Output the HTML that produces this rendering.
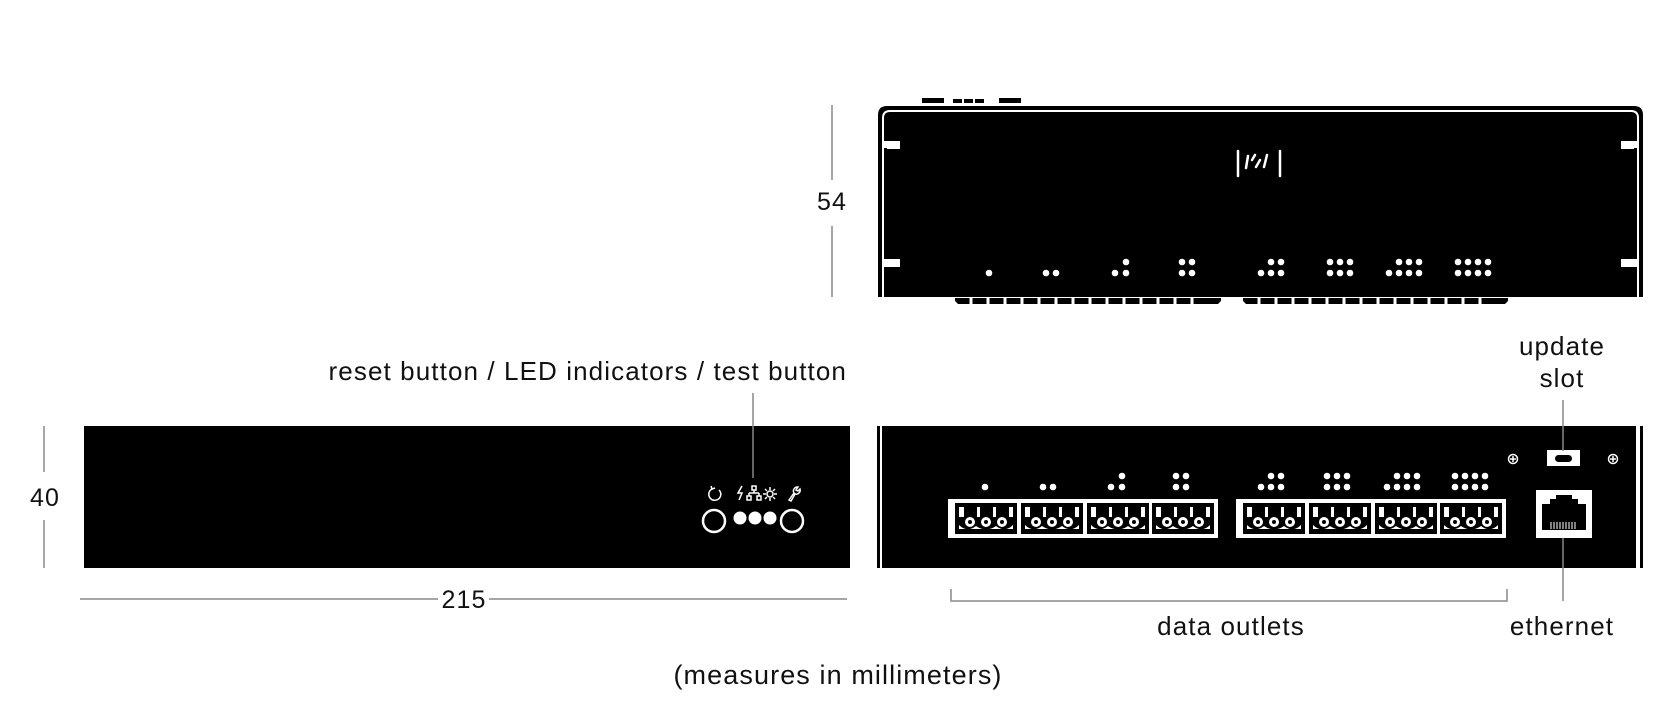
<!DOCTYPE html>
<html><head><meta charset="utf-8"><style>
html,body{margin:0;padding:0;background:#fff}
svg{display:block}
text{font-family:"Liberation Sans",sans-serif;fill:#111;letter-spacing:1.1px}
</style></head><body>
<svg width="1680" height="702" viewBox="0 0 1680 702" xmlns="http://www.w3.org/2000/svg">
<defs>
<g id="conn">
<rect x="0" y="0" width="62" height="31" fill="#000"/>
<path d="M4 4 H58 V26 H4 Z" fill="#fff"/>
<rect x="9" y="4" width="13" height="10" fill="#000"/>
<rect x="25" y="4" width="13" height="10" fill="#000"/>
<rect x="41" y="4" width="13" height="10" fill="#000"/>
<path d="M4 14 H58 V22 Q50 30 41 23 Q31 30 21 23 Q12 30 4 22 Z" fill="#000"/>
<circle cx="15" cy="19" r="5" fill="#fff"/><circle cx="15" cy="19" r="2" fill="#000"/>
<circle cx="31" cy="19" r="5" fill="#fff"/><circle cx="31" cy="19" r="2" fill="#000"/>
<circle cx="47" cy="19" r="5" fill="#fff"/><circle cx="47" cy="19" r="2" fill="#000"/>
</g>
</defs>

<!-- top view -->
<rect x="922" y="98" width="22" height="5" fill="#000"/>
<rect x="953" y="99" width="9" height="4" fill="#000"/>
<rect x="964" y="99" width="9" height="4" fill="#000"/>
<rect x="975" y="99" width="9" height="4" fill="#000"/>
<rect x="999" y="98" width="22" height="5" fill="#000"/>
<path d="M878 297 V115 Q878 106 887 106 H1634 Q1643 106 1643 115 V297 Z" fill="#000"/>
<path d="M883 297 V118 Q883 111 890 111 H1631 Q1638 111 1638 118 V297" fill="none" stroke="#fff" stroke-width="2"/>
<rect x="884" y="141" width="16" height="8" fill="#fff"/>
<rect x="884" y="259" width="16" height="8" fill="#fff"/>
<rect x="1621" y="141" width="16" height="8" fill="#fff"/>
<rect x="1621" y="259" width="16" height="8" fill="#fff"/>
<rect x="884" y="148" width="3" height="111" fill="#000"/>
<rect x="1634" y="148" width="3" height="111" fill="#000"/>
<g fill="#000">
<path d="M955 298 h266 v3 l-3 3 H958 l-3-3 Z"/>
<path d="M1243 298 h265 v3 l-3 3 H1246 l-3-3 Z"/>
</g>
<g stroke="#fff" stroke-width="3">
<line x1="971" y1="298" x2="971" y2="305"/><line x1="988" y1="298" x2="988" y2="305"/><line x1="1005" y1="298" x2="1005" y2="305"/><line x1="1022" y1="298" x2="1022" y2="305"/><line x1="1039" y1="298" x2="1039" y2="305"/><line x1="1056" y1="298" x2="1056" y2="305"/><line x1="1073" y1="298" x2="1073" y2="305"/><line x1="1090" y1="298" x2="1090" y2="305"/><line x1="1107" y1="298" x2="1107" y2="305"/><line x1="1124" y1="298" x2="1124" y2="305"/><line x1="1141" y1="298" x2="1141" y2="305"/><line x1="1158" y1="298" x2="1158" y2="305"/><line x1="1175" y1="298" x2="1175" y2="305"/><line x1="1192" y1="298" x2="1192" y2="305"/>
<line x1="1259" y1="298" x2="1259" y2="305"/><line x1="1276" y1="298" x2="1276" y2="305"/><line x1="1293" y1="298" x2="1293" y2="305"/><line x1="1310" y1="298" x2="1310" y2="305"/><line x1="1327" y1="298" x2="1327" y2="305"/><line x1="1344" y1="298" x2="1344" y2="305"/><line x1="1361" y1="298" x2="1361" y2="305"/><line x1="1378" y1="298" x2="1378" y2="305"/><line x1="1395" y1="298" x2="1395" y2="305"/><line x1="1412" y1="298" x2="1412" y2="305"/><line x1="1429" y1="298" x2="1429" y2="305"/><line x1="1446" y1="298" x2="1446" y2="305"/><line x1="1463" y1="298" x2="1463" y2="305"/><line x1="1480" y1="298" x2="1480" y2="305"/>
</g>
<g stroke="#fff" stroke-width="2.5" stroke-linecap="round">
<line x1="1238" y1="151" x2="1238" y2="176"/>
<line x1="1246" y1="168" x2="1248" y2="156"/>
<line x1="1252" y1="160" x2="1255" y2="155"/>
<line x1="1256" y1="167" x2="1260" y2="160"/>
<line x1="1264" y1="167" x2="1267" y2="155"/>
<line x1="1280" y1="151" x2="1280" y2="176"/>
</g>
<g fill="#fff">
<circle cx="989" cy="273" r="3.3"/>
<circle cx="1046" cy="273" r="3.3"/><circle cx="1056" cy="273" r="3.3"/>
<circle cx="1115" cy="273" r="3.3"/><circle cx="1126" cy="273" r="3.3"/><circle cx="1126" cy="262" r="3.3"/>
<circle cx="1182" cy="273" r="3.3"/><circle cx="1192" cy="273" r="3.3"/><circle cx="1182" cy="262" r="3.3"/><circle cx="1192" cy="262" r="3.3"/>
<circle cx="1261" cy="273" r="3.3"/><circle cx="1271" cy="273" r="3.3"/><circle cx="1281" cy="273" r="3.3"/><circle cx="1271" cy="262" r="3.3"/><circle cx="1281" cy="262" r="3.3"/>
<circle cx="1330" cy="273" r="3.3"/><circle cx="1340" cy="273" r="3.3"/><circle cx="1350" cy="273" r="3.3"/><circle cx="1330" cy="262" r="3.3"/><circle cx="1340" cy="262" r="3.3"/><circle cx="1350" cy="262" r="3.3"/>
<circle cx="1389" cy="273" r="3.3"/><circle cx="1399" cy="273" r="3.3"/><circle cx="1409" cy="273" r="3.3"/><circle cx="1419" cy="273" r="3.3"/><circle cx="1399" cy="262" r="3.3"/><circle cx="1409" cy="262" r="3.3"/><circle cx="1419" cy="262" r="3.3"/>
<circle cx="1458" cy="273" r="3.3"/><circle cx="1468" cy="273" r="3.3"/><circle cx="1478" cy="273" r="3.3"/><circle cx="1488" cy="273" r="3.3"/><circle cx="1458" cy="262" r="3.3"/><circle cx="1468" cy="262" r="3.3"/><circle cx="1478" cy="262" r="3.3"/><circle cx="1488" cy="262" r="3.3"/>
</g>

<line x1="832" y1="105" x2="832" y2="180" stroke="#888" stroke-width="1.5"/>
<line x1="832" y1="226" x2="832" y2="297" stroke="#888" stroke-width="1.5"/>
<text x="832" y="210" font-size="25" text-anchor="middle">54</text>

<rect x="84" y="426" width="766" height="142" fill="#000"/>
<text x="847" y="380" font-size="26" text-anchor="end">reset button / LED indicators / test button</text>
<line x1="753" y1="393" x2="753" y2="478" stroke="#888" stroke-width="1.5"/>
<g stroke="#fff" stroke-width="1.5" fill="none">
<path d="M719 490 a6 6 0 1 1 -7 -1"/><path d="M711 486 l1 3 l3 -1"/>
<path d="M742 486 l-4 7 h4 l-3 7"/>
<rect x="752" y="486" width="4" height="4"/><path d="M754 490 v3 M749 493 h10 M749 493 v3 M759 493 v3"/><rect x="747" y="496" width="4" height="4"/><rect x="757" y="496" width="4" height="4"/>
<circle cx="770" cy="494" r="3"/><path d="M770 487 v3 M770 498 v3 M763 494 h3 M774 494 h3 M765 489 l2 2 M775 489 l-2 2 M765 499 l2 -2 M775 499 l-2 -2"/>
<path d="M789 500 l5 -7 a4 4 0 0 1 4 -6 l-2 3 2 1 2 -2 a4 4 0 0 1 -5 5 l-4 7 z"/>
</g>
<circle cx="714" cy="521" r="11" fill="#000" stroke="#fff" stroke-width="2.5"/>
<circle cx="792" cy="521" r="11" fill="#000" stroke="#fff" stroke-width="2.5"/>
<circle cx="740" cy="518" r="6.5" fill="#fff"/><circle cx="755" cy="518" r="6.5" fill="#fff"/><circle cx="770" cy="518" r="6.5" fill="#fff"/>

<line x1="44" y1="426" x2="44" y2="472" stroke="#888" stroke-width="1.5"/>
<line x1="44" y1="520" x2="44" y2="568" stroke="#888" stroke-width="1.5"/>
<text x="45" y="506" font-size="25" text-anchor="middle">40</text>

<line x1="80" y1="599" x2="438" y2="599" stroke="#888" stroke-width="1.5"/>
<line x1="489" y1="599" x2="847" y2="599" stroke="#888" stroke-width="1.5"/>
<text x="464" y="608" font-size="25" text-anchor="middle">215</text>

<rect x="877" y="426" width="3" height="142" fill="#000"/>
<rect x="882" y="426" width="754" height="142" fill="#000"/>
<rect x="1640" y="426" width="3" height="142" fill="#000"/>
<g fill="#fff">
<circle cx="985" cy="487" r="3.3"/>
<circle cx="1043" cy="487" r="3.3"/><circle cx="1053" cy="487" r="3.3"/>
<circle cx="1111" cy="487" r="3.3"/><circle cx="1122" cy="487" r="3.3"/><circle cx="1122" cy="476" r="3.3"/>
<circle cx="1176" cy="487" r="3.3"/><circle cx="1186" cy="487" r="3.3"/><circle cx="1176" cy="476" r="3.3"/><circle cx="1186" cy="476" r="3.3"/>
<circle cx="1261" cy="487" r="3.3"/><circle cx="1271" cy="487" r="3.3"/><circle cx="1281" cy="487" r="3.3"/><circle cx="1271" cy="476" r="3.3"/><circle cx="1281" cy="476" r="3.3"/>
<circle cx="1327" cy="487" r="3.3"/><circle cx="1337" cy="487" r="3.3"/><circle cx="1347" cy="487" r="3.3"/><circle cx="1327" cy="476" r="3.3"/><circle cx="1337" cy="476" r="3.3"/><circle cx="1347" cy="476" r="3.3"/>
<circle cx="1387" cy="487" r="3.3"/><circle cx="1397" cy="487" r="3.3"/><circle cx="1407" cy="487" r="3.3"/><circle cx="1417" cy="487" r="3.3"/><circle cx="1397" cy="476" r="3.3"/><circle cx="1407" cy="476" r="3.3"/><circle cx="1417" cy="476" r="3.3"/>
<circle cx="1455" cy="487" r="3.3"/><circle cx="1465" cy="487" r="3.3"/><circle cx="1475" cy="487" r="3.3"/><circle cx="1485" cy="487" r="3.3"/><circle cx="1455" cy="476" r="3.3"/><circle cx="1465" cy="476" r="3.3"/><circle cx="1475" cy="476" r="3.3"/><circle cx="1485" cy="476" r="3.3"/>
</g>
<rect x="948" y="499" width="270" height="39" fill="#fff"/>
<rect x="1236" y="499" width="270" height="39" fill="#fff"/>
<use href="#conn" x="955" y="503"/><use href="#conn" x="1021" y="503"/><use href="#conn" x="1087" y="503"/><use href="#conn" x="1152" y="503"/>
<use href="#conn" x="1243" y="503"/><use href="#conn" x="1309" y="503"/><use href="#conn" x="1375" y="503"/><use href="#conn" x="1440" y="503"/>
<g stroke="#fff" stroke-width="1.5" fill="none">
<circle cx="1513" cy="459" r="4.5"/><path d="M1510 459 h6 M1513 456 v6"/>
<circle cx="1613" cy="459" r="4.5"/><path d="M1610 459 h6 M1613 456 v6"/>
</g>
<rect x="1547" y="450" width="33" height="16" fill="#fff"/>
<rect x="1555" y="455" width="17" height="7" rx="3.5" fill="#000"/>
<rect x="1536" y="490" width="56" height="48" fill="#fff"/>
<path d="M1542 530 V504 H1550 V499 H1556 V495 H1572 V499 H1578 V504 H1586 V530 Z" fill="#000"/>
<g stroke="#fff" stroke-width="1"><path d="M1551 522 v7 M1554 522 v7 M1557 522 v7 M1560 522 v7 M1563 522 v7 M1566 522 v7 M1569 522 v7 M1572 522 v7 M1575 522 v7"/></g>

<text x="1562" y="355" font-size="26" text-anchor="middle">update</text>
<text x="1562" y="387" font-size="26" text-anchor="middle">slot</text>
<line x1="1563" y1="400" x2="1563" y2="451" stroke="#888" stroke-width="1.5"/>
<line x1="1563" y1="538" x2="1563" y2="601" stroke="#888" stroke-width="1.5"/>
<text x="1562" y="635" font-size="26" text-anchor="middle">ethernet</text>

<path d="M951 589 V601 H1507 V589" fill="none" stroke="#888" stroke-width="1.5"/>
<text x="1231" y="635" font-size="26" text-anchor="middle">data outlets</text>
<text x="838" y="684" font-size="27" text-anchor="middle">(measures in millimeters)</text>
</svg>
</body></html>
